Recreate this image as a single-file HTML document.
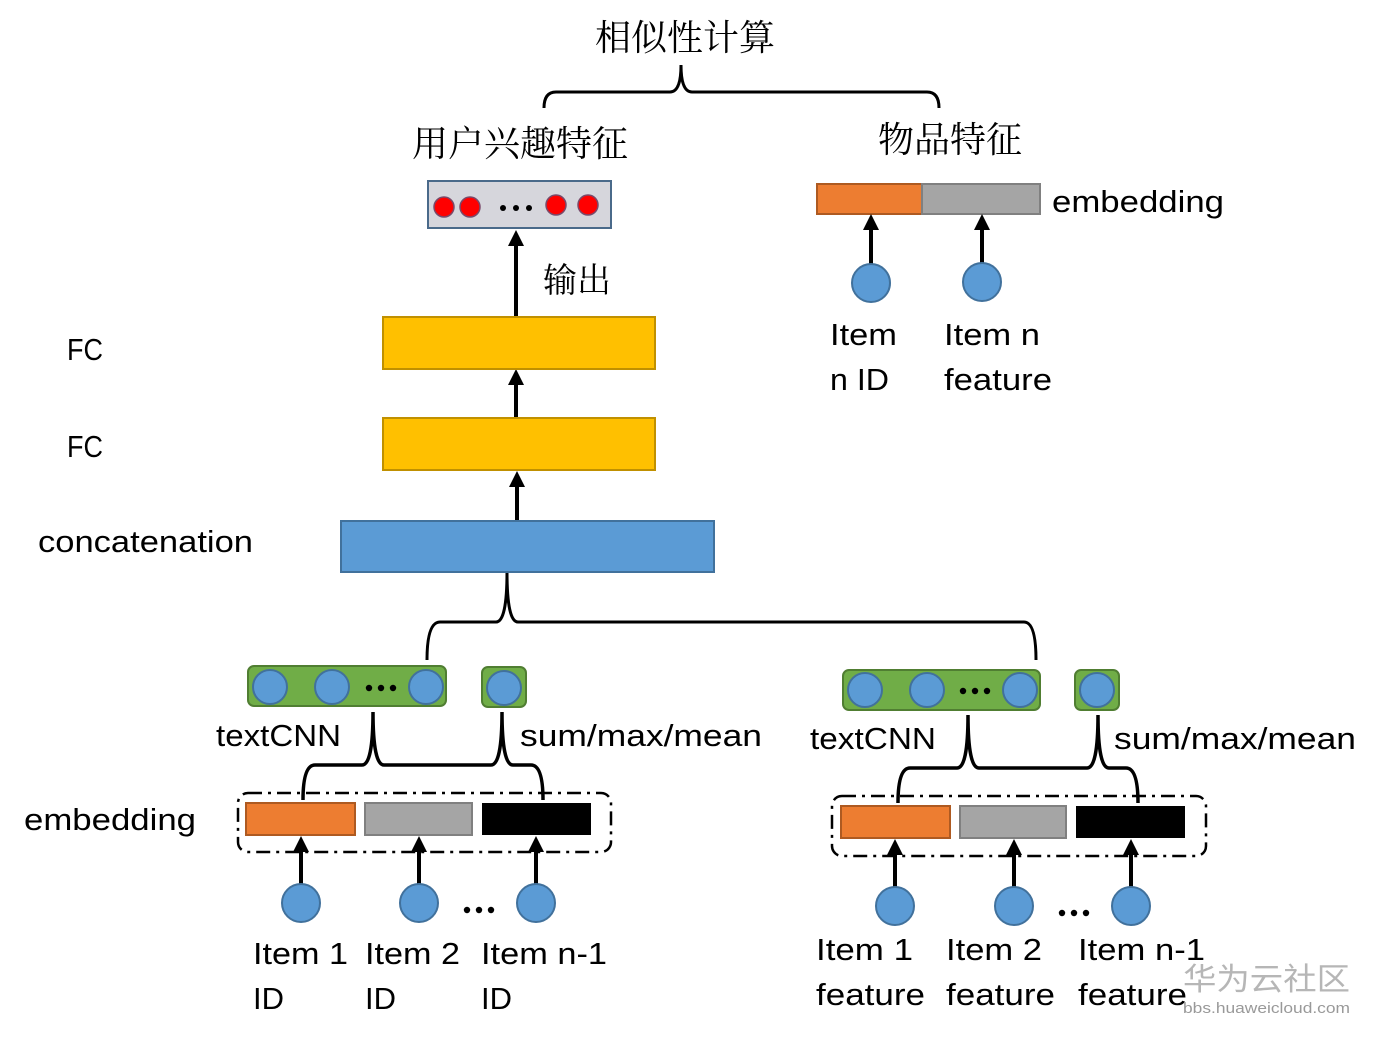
<!DOCTYPE html>
<html><head><meta charset="utf-8"><style>
html,body{margin:0;padding:0;background:#fff;width:1381px;height:1043px;overflow:hidden}
svg text{font-family:"Liberation Sans","Noto Sans CJK SC",sans-serif;fill:#000}
.cj{font-family:"Noto Serif CJK SC","Noto Sans CJK SC",serif}
</style></head><body>
<svg width="1381" height="1043" viewBox="0 0 1381 1043" xmlns="http://www.w3.org/2000/svg">
<defs>
<marker id="ar" markerWidth="4" markerHeight="4" refX="2" refY="2" orient="auto" markerUnits="strokeWidth">
<path d="M0,0 L4,2 L0,4 z" fill="#000"/></marker>
</defs>
<g fill="none" stroke="#000" stroke-width="3">
<path d="M544,108 Q544,92 556,92 L670,92 Q681,92 681,65 Q681,92 692,92 L927,92 Q939,92 939,108"/>
<path d="M427,660 Q427,622 440,622 L496,622 Q507,622 507,572 Q507,622 518,622 L1024,622 Q1036,622 1036,660"/>
<path d="M303,800 Q303,765 315,765 L362,765 Q373,765 373,712 Q373,765 384,765 L491,765 Q502,765 502,712 Q502,765 513,765 L531,765 Q543,765 543,800" stroke-width="3.5"/>
<path d="M898,803 Q898,768 910,768 L957,768 Q968,768 968,715 Q968,768 979,768 L1087,768 Q1098,768 1098,715 Q1098,768 1109,768 L1126,768 Q1138,768 1138,803" stroke-width="3.5"/>
</g>
<text x="685" y="50" font-size="36" text-anchor="middle" class="cj">相似性计算</text>
<text x="520" y="156" font-size="36" text-anchor="middle" class="cj">用户兴趣特征</text>
<text x="950" y="152" font-size="36" text-anchor="middle" class="cj">物品特征</text>
<text x="543" y="292" font-size="34" class="cj">输出</text>
<rect x="428" y="181" width="183" height="47" fill="#d6d6dc" stroke="#4a6a8a" stroke-width="2"/>
<g fill="#f00" stroke="#7a4a6a" stroke-width="1.5">
<circle cx="444" cy="207" r="10"/><circle cx="470" cy="207" r="10"/><circle cx="556" cy="205" r="10"/><circle cx="588" cy="205" r="10"/>
</g>
<g fill="#000"><circle cx="503" cy="208" r="3"/><circle cx="516" cy="208" r="3"/><circle cx="529" cy="208" r="3"/></g>
<g stroke="#000" stroke-width="4" marker-end="url(#ar)">
<line x1="516" y1="317" x2="516" y2="238"/>
<line x1="516" y1="418" x2="516" y2="377"/>
<line x1="517" y1="521" x2="517" y2="479"/>
</g>
<rect x="383" y="317" width="272" height="52" fill="#ffc000" stroke="#c09000" stroke-width="2"/>
<rect x="383" y="418" width="272" height="52" fill="#ffc000" stroke="#c09000" stroke-width="2"/>
<rect x="341" y="521" width="373" height="51" fill="#5b9bd5" stroke="#41719c" stroke-width="2"/>
<text x="67" y="360" font-size="31" textLength="36" lengthAdjust="spacingAndGlyphs">FC</text>
<text x="67" y="457" font-size="31" textLength="36" lengthAdjust="spacingAndGlyphs">FC</text>
<text x="38" y="552" font-size="31" textLength="215" lengthAdjust="spacingAndGlyphs">concatenation</text>
<rect x="817" y="184" width="105" height="30" fill="#ed7d31" stroke="#ae5a21" stroke-width="2"/>
<rect x="922" y="184" width="118" height="30" fill="#a5a5a5" stroke="#808080" stroke-width="2"/>
<g stroke="#000" stroke-width="4" marker-end="url(#ar)">
<line x1="871" y1="264" x2="871" y2="222"/>
<line x1="982" y1="263" x2="982" y2="222"/>
</g>
<g fill="#5b9bd5" stroke="#41719c" stroke-width="2">
<circle cx="871" cy="283" r="19"/><circle cx="982" cy="282" r="19"/>
</g>
<text x="1052" y="212" font-size="31" textLength="172" lengthAdjust="spacingAndGlyphs">embedding</text>
<text x="830" y="345" font-size="31" textLength="67" lengthAdjust="spacingAndGlyphs">Item</text>
<text x="830" y="390" font-size="31" textLength="59" lengthAdjust="spacingAndGlyphs">n ID</text>
<text x="944" y="345" font-size="31" textLength="96" lengthAdjust="spacingAndGlyphs">Item n</text>
<text x="944" y="390" font-size="31" textLength="108" lengthAdjust="spacingAndGlyphs">feature</text>
<rect x="248" y="666" width="198" height="40" rx="6" fill="#70ad47" stroke="#507e32" stroke-width="2"/>
<rect x="482" y="667" width="44" height="40" rx="6" fill="#70ad47" stroke="#507e32" stroke-width="2"/>
<g fill="#5b9bd5" stroke="#41719c" stroke-width="2">
<circle cx="270" cy="687" r="17"/><circle cx="332" cy="687" r="17"/><circle cx="426" cy="687" r="17"/><circle cx="504" cy="688" r="17"/>
</g>
<g fill="#000"><circle cx="369" cy="688" r="3.2"/><circle cx="381" cy="688" r="3.2"/><circle cx="393" cy="688" r="3.2"/></g>
<rect x="238" y="793" width="373" height="59" rx="10" fill="none" stroke="#000" stroke-width="2.5" stroke-dasharray="14,6,3,6"/>
<rect x="246" y="803" width="109" height="32" fill="#ed7d31" stroke="#ae5a21" stroke-width="2"/>
<rect x="365" y="803" width="107" height="32" fill="#a5a5a5" stroke="#808080" stroke-width="2"/>
<rect x="482" y="803" width="109" height="32" fill="#000"/>
<g stroke="#000" stroke-width="4" marker-end="url(#ar)">
<line x1="301" y1="884" x2="301" y2="844"/>
<line x1="419" y1="884" x2="419" y2="844"/>
<line x1="536" y1="884" x2="536" y2="844"/>
</g>
<g fill="#5b9bd5" stroke="#41719c" stroke-width="2">
<circle cx="301" cy="903" r="19"/><circle cx="419" cy="903" r="19"/><circle cx="536" cy="903" r="19"/>
</g>
<g fill="#000"><circle cx="467" cy="910" r="3.2"/><circle cx="479" cy="910" r="3.2"/><circle cx="491" cy="910" r="3.2"/></g>
<text x="216" y="746" font-size="31" textLength="125" lengthAdjust="spacingAndGlyphs">textCNN</text>
<text x="520" y="746" font-size="31" textLength="242" lengthAdjust="spacingAndGlyphs">sum/max/mean</text>
<text x="24" y="830" font-size="31" textLength="172" lengthAdjust="spacingAndGlyphs">embedding</text>
<text x="253" y="964" font-size="31" textLength="95" lengthAdjust="spacingAndGlyphs">Item 1</text><text x="253" y="1009" font-size="31">ID</text>
<text x="365" y="964" font-size="31" textLength="95" lengthAdjust="spacingAndGlyphs">Item 2</text><text x="365" y="1009" font-size="31">ID</text>
<text x="481" y="964" font-size="31" textLength="126" lengthAdjust="spacingAndGlyphs">Item n-1</text><text x="481" y="1009" font-size="31">ID</text>
<rect x="843" y="670" width="197" height="40" rx="6" fill="#70ad47" stroke="#507e32" stroke-width="2"/>
<rect x="1075" y="670" width="44" height="40" rx="6" fill="#70ad47" stroke="#507e32" stroke-width="2"/>
<g fill="#5b9bd5" stroke="#41719c" stroke-width="2">
<circle cx="865" cy="690" r="17"/><circle cx="927" cy="690" r="17"/><circle cx="1020" cy="690" r="17"/><circle cx="1097" cy="690" r="17"/>
</g>
<g fill="#000"><circle cx="963" cy="691" r="3.2"/><circle cx="975" cy="691" r="3.2"/><circle cx="987" cy="691" r="3.2"/></g>
<rect x="832" y="796" width="374" height="60" rx="10" fill="none" stroke="#000" stroke-width="2.5" stroke-dasharray="14,6,3,6"/>
<rect x="841" y="806" width="109" height="32" fill="#ed7d31" stroke="#ae5a21" stroke-width="2"/>
<rect x="960" y="806" width="106" height="32" fill="#a5a5a5" stroke="#808080" stroke-width="2"/>
<rect x="1076" y="806" width="109" height="32" fill="#000"/>
<g stroke="#000" stroke-width="4" marker-end="url(#ar)">
<line x1="895" y1="887" x2="895" y2="847"/>
<line x1="1014" y1="887" x2="1014" y2="847"/>
<line x1="1131" y1="887" x2="1131" y2="847"/>
</g>
<g fill="#5b9bd5" stroke="#41719c" stroke-width="2">
<circle cx="895" cy="906" r="19"/><circle cx="1014" cy="906" r="19"/><circle cx="1131" cy="906" r="19"/>
</g>
<g fill="#000"><circle cx="1062" cy="913" r="3.2"/><circle cx="1074" cy="913" r="3.2"/><circle cx="1086" cy="913" r="3.2"/></g>
<text x="810" y="749" font-size="31" textLength="126" lengthAdjust="spacingAndGlyphs">textCNN</text>
<text x="1114" y="749" font-size="31" textLength="242" lengthAdjust="spacingAndGlyphs">sum/max/mean</text>
<text x="816" y="960" font-size="31" textLength="97" lengthAdjust="spacingAndGlyphs">Item 1</text><text x="816" y="1005" font-size="31" textLength="109" lengthAdjust="spacingAndGlyphs">feature</text>
<text x="946" y="960" font-size="31" textLength="96" lengthAdjust="spacingAndGlyphs">Item 2</text><text x="946" y="1005" font-size="31" textLength="109" lengthAdjust="spacingAndGlyphs">feature</text>
<text x="1078" y="960" font-size="31" textLength="127" lengthAdjust="spacingAndGlyphs">Item n-1</text><text x="1078" y="1005" font-size="31" textLength="109" lengthAdjust="spacingAndGlyphs">feature</text>
<text x="1183" y="990" font-size="31" textLength="167" lengthAdjust="spacingAndGlyphs" style="fill:#aaa;opacity:0.85" font-family="Noto Sans CJK SC">华为云社区</text>
<text x="1183" y="1013" font-size="15" textLength="167" lengthAdjust="spacingAndGlyphs" style="fill:#999">bbs.huaweicloud.com</text>
</svg>
</body></html>
